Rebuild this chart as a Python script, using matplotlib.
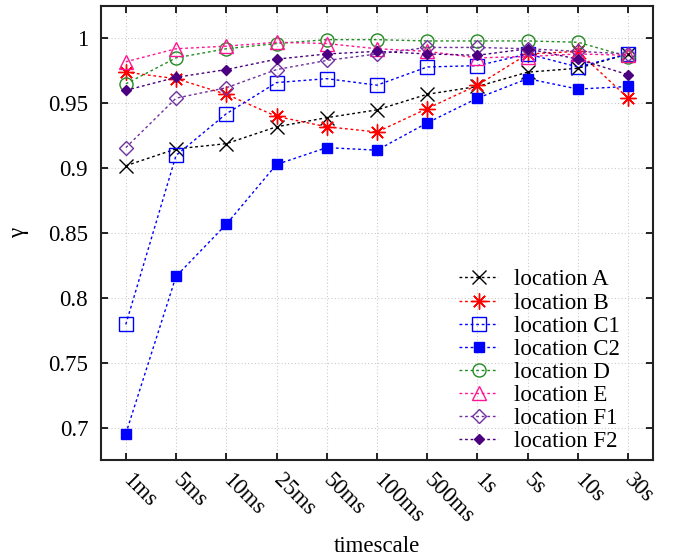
import matplotlib
matplotlib.use('Agg')
import matplotlib.pyplot as plt

# timescales on the x axis
timescales = ['1ms', '5ms', '10ms', '25ms', '50ms', '100ms', '500ms', '1s', '5s', '10s', '30s']

# gamma per location
loc_a = [0.902, 0.915, 0.919, 0.932, 0.939, 0.945, 0.957, 0.963, 0.974, 0.977, 0.988]
loc_b = [0.974, 0.969, 0.957, 0.940, 0.932, 0.928, 0.946, 0.964, 0.988, 0.990, 0.954]
loc_c1 = [0.780, 0.910, 0.942, 0.966, 0.969, 0.964, 0.978, 0.979, 0.988, 0.978, 0.988]
loc_c2 = [0.696, 0.817, 0.857, 0.903, 0.916, 0.914, 0.935, 0.954, 0.969, 0.961, 0.963]
loc_d = [0.965, 0.985, 0.992, 0.996, 0.999, 0.999, 0.998, 0.998, 0.998, 0.997, 0.986]
loc_e = [0.982, 0.992, 0.994, 0.997, 0.996, 0.992, 0.990, 0.985, 0.986, 0.988, 0.987]
loc_f1 = [0.916, 0.954, 0.962, 0.976, 0.983, 0.988, 0.993, 0.993, 0.992, 0.990, 0.988]
loc_f2 = [0.960, 0.970, 0.976, 0.984, 0.988, 0.990, 0.988, 0.987, 0.992, 0.984, 0.972]

y_ticks = [0.7, 0.75, 0.8, 0.85, 0.9, 0.95, 1.0]
y_tick_labels = ['0.7', '0.75', '0.8', '0.85', '0.9', '0.95', '1']

plt.rcParams['font.family'] = ['Liberation Serif', 'DejaVu Serif']
plt.rcParams['font.size'] = 16.5

fig = plt.figure(figsize=(6.73, 5.60), dpi=100)
ax = fig.add_axes([0.1496, 0.1777, 0.8211, 0.8121])

x = list(range(len(timescales)))
dots = (0, (2, 2))

# (label, values, color, marker, size, filled)
series = [
    ('location A', loc_a, 'black', 'x', 9.5, False),
    ('location B', loc_b, 'red', (8, 2, 0), 11.5, False),
    ('location C1', loc_c1, 'blue', 's', 9.4, False),
    ('location C2', loc_c2, 'blue', 's', 7.2, True),
    ('location D', loc_d, '#228b22', 'o', 9.4, False),
    ('location E', loc_e, '#ff1493', '^', 10, False),
    ('location F1', loc_f1, '#7030a0', 'D', 7.0, False),
    ('location F2', loc_f2, '#4b0082', 'D', 4.8, True),
]

for label, vals, color, marker, ms, filled in series:
    ax.plot(x, vals, linestyle=dots, linewidth=1.0, color=color,
            marker=marker, markersize=ms,
            markerfacecolor=color if filled else 'none',
            markeredgecolor=color, markeredgewidth=1.0, label=label)

ax.set_xlim(-0.5, 10.5)
ax.set_ylim(0.6754, 1.0251)

ax.set_xticks(x)
ax.set_xticklabels(timescales, rotation=-45, ha='left', va='center',
                   rotation_mode='anchor')
ax.set_yticks(y_ticks)
ax.set_yticklabels(y_tick_labels)

ax.tick_params(direction='in', length=5, width=1.4, top=True, right=True,
               labeltop=False, labelright=False, colors='#222222')
ax.tick_params(axis='x', pad=12)
ax.tick_params(axis='y', pad=9)
for lab in ax.get_xticklabels() + ax.get_yticklabels():
    lab.set_color('black')

for sp in ax.spines.values():
    sp.set_linewidth(1.5)
    sp.set_color('#222222')

ax.grid(True, color='#cccccc', linestyle=(0, (1, 2)), linewidth=0.8)
ax.set_axisbelow(True)

ax.set_xlabel('timescale', labelpad=6)
ax.set_ylabel('γ', labelpad=14)

ax.legend(loc='lower right', bbox_to_anchor=(0.965, -0.012), frameon=False,
          handlelength=1.7, handletextpad=0.7, labelspacing=0.09,
          borderaxespad=0.2)

fig.savefig('out.png', dpi=100)
